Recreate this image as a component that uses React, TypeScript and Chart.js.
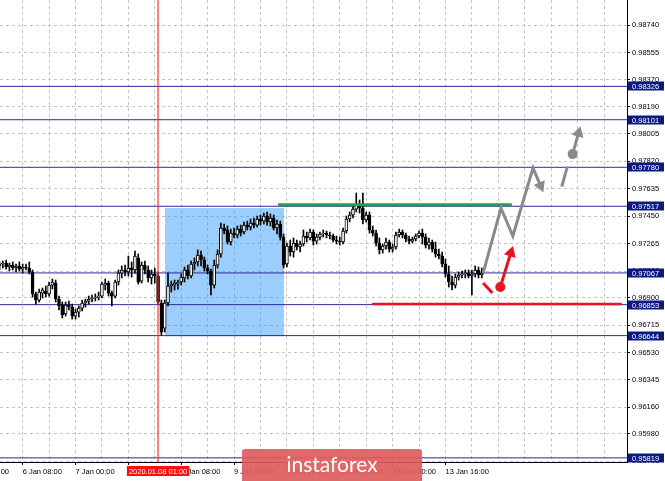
import React, { useEffect, useRef } from "react";
import { Chart, registerables } from "chart.js";

Chart.register(...registerables);

// ---------- data (H1 candles, bar index 0 = 6 Jan 08:00) ----------
const FIRST_BAR = -7;

const opens = [
  0.97114, 0.97127, 0.97134, 0.97107, 0.97120, 0.97100, 0.97114, 0.97093, 0.97107, 0.97100,
  0.97073, 0.96925, 0.96884, 0.96931, 0.96945, 0.96925, 0.96985, 0.96999, 0.96891, 0.96850,
  0.96790, 0.96850, 0.96837, 0.96776, 0.96803, 0.96830, 0.96864, 0.96877, 0.96891, 0.96898,
  0.96904, 0.96911, 0.96985, 0.96999, 0.96931, 0.96911, 0.97006, 0.97066, 0.97087, 0.97073,
  0.97100, 0.97087, 0.97168, 0.97012, 0.97120, 0.97087, 0.97033, 0.97060, 0.97046, 0.96864,
  0.96695, 0.96864, 0.96979, 0.96985, 0.96992, 0.97006, 0.97033, 0.97087, 0.97046, 0.97127,
  0.97141, 0.97188, 0.97154, 0.97100, 0.97080, 0.96985, 0.97120, 0.97195, 0.97370, 0.97357,
  0.97276, 0.97336, 0.97323, 0.97363, 0.97343, 0.97390, 0.97377, 0.97404, 0.97390, 0.97431,
  0.97417, 0.97451, 0.97411, 0.97438, 0.97370, 0.97397, 0.97309, 0.97127, 0.97249, 0.97208,
  0.97269, 0.97242, 0.97262, 0.97316, 0.97303, 0.97343, 0.97282, 0.97309, 0.97330, 0.97336,
  0.97323, 0.97316, 0.97289, 0.97282, 0.97276, 0.97350, 0.97431, 0.97458, 0.97498, 0.97525,
  0.97505, 0.97424, 0.97458, 0.97357, 0.97336, 0.97269, 0.97222, 0.97249, 0.97276, 0.97228,
  0.97242, 0.97323, 0.97343, 0.97323, 0.97296, 0.97282, 0.97296, 0.97316, 0.97336, 0.97309,
  0.97255, 0.97276, 0.97228, 0.97195, 0.97181, 0.97127, 0.97060, 0.97006, 0.96985, 0.97039,
  0.97053, 0.97060, 0.97066, 0.97046, 0.97060, 0.97087, 0.97053,
];

const highs = [
  0.97141, 0.97147, 0.97154, 0.97134, 0.97141, 0.97127, 0.97141, 0.97127, 0.97127, 0.97141,
  0.97087, 0.96938, 0.96958, 0.96965, 0.96979, 0.97006, 0.97026, 0.97019, 0.96911, 0.96871,
  0.96871, 0.96877, 0.96857, 0.96823, 0.96844, 0.96884, 0.96891, 0.96911, 0.96918, 0.96925,
  0.96938, 0.97006, 0.97026, 0.97012, 0.96945, 0.97019, 0.97087, 0.97114, 0.97120, 0.97181,
  0.97141, 0.97215, 0.97195, 0.97141, 0.97147, 0.97114, 0.97087, 0.97100, 0.97066, 0.96884,
  0.96884, 0.97066, 0.97012, 0.97019, 0.97019, 0.97060, 0.97107, 0.97120, 0.97147, 0.97168,
  0.97222, 0.97215, 0.97174, 0.97120, 0.97093, 0.97154, 0.97222, 0.97404, 0.97397, 0.97384,
  0.97363, 0.97370, 0.97384, 0.97390, 0.97411, 0.97417, 0.97431, 0.97438, 0.97451, 0.97458,
  0.97471, 0.97478, 0.97465, 0.97458, 0.97424, 0.97417, 0.97330, 0.97269, 0.97289, 0.97303,
  0.97289, 0.97282, 0.97357, 0.97343, 0.97363, 0.97357, 0.97330, 0.97343, 0.97357, 0.97350,
  0.97343, 0.97330, 0.97316, 0.97309, 0.97370, 0.97451, 0.97478, 0.97519, 0.97606, 0.97559,
  0.97606, 0.97478, 0.97478, 0.97384, 0.97357, 0.97303, 0.97262, 0.97303, 0.97289, 0.97262,
  0.97343, 0.97363, 0.97357, 0.97336, 0.97316, 0.97309, 0.97330, 0.97350, 0.97363, 0.97330,
  0.97303, 0.97289, 0.97276, 0.97228, 0.97208, 0.97161, 0.97114, 0.97046, 0.97060, 0.97073,
  0.97080, 0.97087, 0.97087, 0.97087, 0.97114, 0.97107, 0.97100,
];

const lows = [
  0.97087, 0.97100, 0.97093, 0.97080, 0.97087, 0.97073, 0.97080, 0.97066, 0.97087, 0.97060,
  0.96904, 0.96857, 0.96871, 0.96898, 0.96904, 0.96911, 0.96958, 0.96871, 0.96817, 0.96763,
  0.96776, 0.96817, 0.96756, 0.96756, 0.96769, 0.96810, 0.96837, 0.96857, 0.96871, 0.96877,
  0.96884, 0.96898, 0.96952, 0.96911, 0.96844, 0.96898, 0.96985, 0.97033, 0.97046, 0.97046,
  0.97039, 0.97066, 0.96992, 0.96999, 0.97060, 0.97006, 0.96992, 0.96999, 0.96857, 0.96648,
  0.96668, 0.96844, 0.96938, 0.96952, 0.96958, 0.96985, 0.97006, 0.97026, 0.97033, 0.97087,
  0.97114, 0.97114, 0.97080, 0.97060, 0.96918, 0.96965, 0.97100, 0.97174, 0.97330, 0.97262,
  0.97255, 0.97303, 0.97303, 0.97316, 0.97330, 0.97357, 0.97357, 0.97370, 0.97377, 0.97390,
  0.97397, 0.97390, 0.97384, 0.97357, 0.97330, 0.97289, 0.97100, 0.97107, 0.97181, 0.97174,
  0.97222, 0.97208, 0.97249, 0.97276, 0.97289, 0.97255, 0.97262, 0.97289, 0.97309, 0.97303,
  0.97296, 0.97276, 0.97262, 0.97255, 0.97262, 0.97336, 0.97411, 0.97438, 0.97478, 0.97471,
  0.97397, 0.97411, 0.97336, 0.97316, 0.97249, 0.97195, 0.97201, 0.97228, 0.97208, 0.97208,
  0.97228, 0.97309, 0.97303, 0.97276, 0.97262, 0.97269, 0.97282, 0.97303, 0.97262, 0.97235,
  0.97228, 0.97208, 0.97174, 0.97161, 0.97107, 0.97039, 0.96972, 0.96952, 0.96965, 0.97019,
  0.97033, 0.97033, 0.97033, 0.96918, 0.97039, 0.97033, 0.97033,
];

const closes = [
  0.97127, 0.97134, 0.97107, 0.97120, 0.97100, 0.97114, 0.97093, 0.97107, 0.97100, 0.97073,
  0.96925, 0.96884, 0.96938, 0.96952, 0.96925, 0.96985, 0.97006, 0.96891, 0.96844, 0.96783,
  0.96850, 0.96837, 0.96776, 0.96803, 0.96830, 0.96864, 0.96877, 0.96891, 0.96898, 0.96904,
  0.96911, 0.96992, 0.96999, 0.96931, 0.96911, 0.97006, 0.97066, 0.97087, 0.97073, 0.97100,
  0.97087, 0.97181, 0.97006, 0.97120, 0.97087, 0.97033, 0.97060, 0.97046, 0.96871, 0.96668,
  0.96864, 0.96979, 0.96992, 0.96999, 0.97006, 0.97039, 0.97087, 0.97046, 0.97127, 0.97141,
  0.97188, 0.97154, 0.97100, 0.97080, 0.96985, 0.97120, 0.97195, 0.97370, 0.97350, 0.97276,
  0.97336, 0.97323, 0.97363, 0.97336, 0.97390, 0.97377, 0.97404, 0.97390, 0.97431, 0.97417,
  0.97451, 0.97411, 0.97438, 0.97370, 0.97397, 0.97309, 0.97120, 0.97249, 0.97208, 0.97269,
  0.97242, 0.97262, 0.97316, 0.97303, 0.97343, 0.97282, 0.97309, 0.97330, 0.97336, 0.97323,
  0.97316, 0.97289, 0.97282, 0.97276, 0.97350, 0.97431, 0.97458, 0.97498, 0.97525, 0.97505,
  0.97424, 0.97458, 0.97357, 0.97336, 0.97269, 0.97222, 0.97249, 0.97276, 0.97228, 0.97242,
  0.97323, 0.97343, 0.97323, 0.97296, 0.97282, 0.97296, 0.97316, 0.97336, 0.97309, 0.97255,
  0.97276, 0.97228, 0.97195, 0.97181, 0.97127, 0.97060, 0.97006, 0.96985, 0.97039, 0.97053,
  0.97060, 0.97066, 0.97046, 0.97060, 0.97087, 0.97053, 0.97066,
];

// time axis
const timeTickIndex = [-16, 0, 16, 32, 48, 64, 80, 96, 112, 128];
const timeTickLabels = [
  "3 Jan 16:00", "6 Jan 08:00", "7 Jan 00:00", "7 Jan 16:00", "8 Jan 08:00",
  "9 Jan 00:00", "9 Jan 16:00", "10 Jan 08:00", "13 Jan 00:00", "13 Jan 16:00",
];
const timeGridStep = 8;
const xRange = [-6.86, 182.96];

// price axis
const priceRange = [0.95791, 0.98909];
const priceTicks = [
  0.98740, 0.98555, 0.98370, 0.98190, 0.98005, 0.97820, 0.97635, 0.97450, 0.97265,
  0.97080, 0.96900, 0.96715, 0.96530, 0.96345, 0.96160, 0.95980, 0.95795,
];
const levelPrices = [0.98326, 0.98101, 0.97780, 0.97517, 0.97067, 0.96853, 0.96644, 0.95819];

// annotations
const markerIndex = 41;
const markerLabel = "2020.01.08 01:00";
const zoneX = [43.1, 79.1];
const zoneTop = 0.97505;
const zoneBottom = 0.9664;
const resistanceX = [77.3, 148.1];
const resistancePrice = 0.97527;
const supportX = [105.8, 181.4];
const supportPrice = 0.96857;
const bullPathX = [139.4, 144.8, 148.4, 154.5, 156.8];
const bullPathY = [0.97066, 0.97505, 0.97316, 0.97775, 0.97655];
const bullDashX = [163.2, 164.9];
const bullDashY = [0.97649, 0.97784];
const bullDot = [166.5, 0.97869];
const bullArrowX = [166.5, 168.3];
const bullArrowY = [0.97869, 0.98012];
const bearDashX = [139.4, 142.2];
const bearDashY = [0.96999, 0.96931];
const bearDot = [144.6, 0.96972];
const bearArrowX = [144.6, 147.8];
const bearArrowY = [0.96972, 0.97203];
const watermarkText = "instaforex";

// ---------- styles ----------
const FONT = "'Liberation Sans', Arial, sans-serif";
const LEVEL_COLOR = "#2b2b9b";
const LABEL_BOX = "#0c1a80";
const GRAY = "#8a8a8a";
const RED = "#e8141e";

const pts = (xs: number[], ys: number[]) => xs.map((x, k) => ({ x, y: ys[k] }));

const arrowRotation = (ctx: any) => {
  const data = ctx.dataset.data;
  const i = ctx.dataIndex;
  if (!i) return 0;
  const xs = ctx.chart.scales.x;
  const ys = ctx.chart.scales.y;
  const dx = xs.getPixelForValue(data[i].x) - xs.getPixelForValue(data[i - 1].x);
  const dy = ys.getPixelForValue(data[i].y) - ys.getPixelForValue(data[i - 1].y);
  return (Math.atan2(dx, -dy) * 180) / Math.PI;
};
const lastPointRadius = (r: number) => (ctx: any) =>
  ctx.dataIndex === ctx.dataset.data.length - 1 ? r : 0;

const arrowLine = (data: any[], color: string, order: number) => ({
  type: "line" as const,
  data,
  borderColor: color,
  backgroundColor: color,
  borderWidth: 3,
  pointStyle: "triangle",
  pointRadius: lastPointRadius(7),
  pointBorderWidth: 0,
  pointBackgroundColor: color,
  pointRotation: arrowRotation,
  tension: 0,
  order,
});

const overlayPlugin = {
  id: "overlay",
  afterDraw(chart: any) {
    const { ctx, chartArea, scales } = chart;
    const xs = scales.x;
    const ys = scales.y;
    ctx.save();
    ctx.font = `7.5px ${FONT}`;
    ctx.textBaseline = "middle";
    ctx.textAlign = "left";
    // level price boxes
    levelPrices.forEach((p) => {
      const y = Math.round(ys.getPixelForValue(p));
      ctx.fillStyle = LABEL_BOX;
      ctx.fillRect(chartArea.right + 1, y - 4.5, 36, 9);
      ctx.fillStyle = "#ffffff";
      ctx.fillText(p.toFixed(5), chartArea.right + 5, y + 0.5);
    });
    // date marker box
    const mx = xs.getPixelForValue(markerIndex);
    const w = ctx.measureText(markerLabel).width + 4;
    ctx.fillStyle = "#ff1010";
    ctx.fillRect(mx - w / 2, chartArea.bottom + 4, w, 10);
    ctx.fillStyle = "#ffffff";
    ctx.textAlign = "center";
    ctx.fillText(markerLabel, mx, chartArea.bottom + 9.5);
    // watermark
    const bx = 242, bw = 180, by = 449, bh = 40;
    ctx.fillStyle = "rgba(222, 92, 92, 0.92)";
    ctx.beginPath();
    ctx.moveTo(bx + 3, by);
    ctx.lineTo(bx + bw - 3, by);
    ctx.quadraticCurveTo(bx + bw, by, bx + bw, by + 3);
    ctx.lineTo(bx + bw, by + bh);
    ctx.lineTo(bx, by + bh);
    ctx.lineTo(bx, by + 3);
    ctx.quadraticCurveTo(bx, by, bx + 3, by);
    ctx.fill();
    ctx.fillStyle = "#ffffff";
    ctx.font = `21px Lato, 'Open Sans', sans-serif`;
    ctx.textAlign = "center";
    ctx.textBaseline = "alphabetic";
    ctx.fillText(watermarkText, bx + bw / 2, by + 23);
    ctx.restore();
  },
};

export default function App() {
  const ref = useRef<HTMLCanvasElement>(null);

  useEffect(() => {
    const idx = opens.map((_, k) => FIRST_BAR + k);
    const wicks = idx.map((x, k) => ({ x, y: [lows[k], highs[k]] }));
    const bodies = idx.map((x, k) => ({ x, y: [opens[k], closes[k]] }));
    const bodyColors = opens.map((o, k) => (closes[k] > o ? "#ffffff" : "#000000"));

    const datasets: any[] = [
      {
        type: "line",
        data: pts(zoneX, [zoneTop, zoneTop]),
        borderWidth: 0,
        borderColor: "rgba(0,0,0,0)",
        backgroundColor: "rgba(45,150,250,0.48)",
        fill: { value: zoneBottom },
        pointRadius: 0,
        order: 20,
      },
      ...levelPrices.map((p) => ({
        type: "line",
        data: pts(xRange, [p, p]),
        borderColor: LEVEL_COLOR,
        borderWidth: 1,
        pointRadius: 0,
        order: 15,
      })),
      {
        type: "bar",
        data: wicks,
        backgroundColor: "#000000",
        barThickness: 1,
        grouped: false,
        order: 12,
      },
      {
        type: "bar",
        data: bodies,
        backgroundColor: bodyColors,
        borderColor: "#000000",
        borderWidth: 1,
        borderSkipped: false,
        barThickness: 3,
        minBarLength: 1,
        grouped: false,
        order: 11,
      },
      {
        type: "line",
        data: pts([markerIndex, markerIndex], priceRange),
        borderColor: "rgba(255,40,40,0.6)",
        borderWidth: 2,
        pointRadius: 0,
        order: 9,
      },
      {
        type: "line",
        data: pts(resistanceX, [resistancePrice, resistancePrice]),
        borderColor: "#22a04a",
        borderWidth: 3,
        pointRadius: 0,
        order: 8,
      },
      {
        type: "line",
        data: pts(supportX, [supportPrice, supportPrice]),
        borderColor: RED,
        borderWidth: 2.5,
        pointRadius: 0,
        order: 8,
      },
      arrowLine(pts(bullPathX, bullPathY), GRAY, 6),
      {
        type: "line",
        data: pts(bullDashX, bullDashY),
        borderColor: GRAY,
        borderWidth: 3,
        pointRadius: 0,
        order: 6,
      },
      arrowLine(pts(bullArrowX, bullArrowY), GRAY, 5),
      {
        type: "line",
        data: [{ x: bullDot[0], y: bullDot[1] }],
        pointRadius: 5,
        pointBackgroundColor: GRAY,
        pointBorderWidth: 0,
        showLine: false,
        order: 4,
      },
      {
        type: "line",
        data: pts(bearDashX, bearDashY),
        borderColor: RED,
        borderWidth: 3,
        pointRadius: 0,
        order: 6,
      },
      arrowLine(pts(bearArrowX, bearArrowY), RED, 5),
      {
        type: "line",
        data: [{ x: bearDot[0], y: bearDot[1] }],
        pointRadius: 5,
        pointBackgroundColor: RED,
        pointBorderWidth: 0,
        showLine: false,
        order: 4,
      },
    ];

    const gridTicks: number[] = [];
    for (let v = timeTickIndex[0]; v <= xRange[1]; v += timeGridStep) gridTicks.push(v);

    const chart = new Chart(ref.current as HTMLCanvasElement, {
      type: "bar",
      data: { datasets },
      plugins: [overlayPlugin],
      options: {
        responsive: false,
        animation: false,
        devicePixelRatio: 1,
        events: [],
        layout: { padding: 0, autoPadding: false },
        plugins: { legend: { display: false }, tooltip: { enabled: false } },
        scales: {
          x: {
            type: "linear",
            position: "bottom",
            min: xRange[0],
            max: xRange[1],
            offset: false,
            afterBuildTicks: (s: any) => {
              s.ticks = gridTicks.map((value) => ({ value }));
            },
            afterFit: (s: any) => {
              s.height = 19;
              s.paddingLeft = 0;
              s.paddingRight = 0;
            },
            grid: {
              offset: false,
              color: "#c4c4c4",
              lineWidth: 1,
              tickLength: 3,
              tickBorderDash: [],
              tickColor: (ctx: any) =>
                ctx.tick && timeTickIndex.includes(ctx.tick.value) ? "#000000" : "rgba(0,0,0,0)",
            },
            border: { display: true, color: "#000000", width: 1, dash: [3, 3] },
            ticks: {
              autoSkip: false,
              maxRotation: 0,
              minRotation: 0,
              align: "start",
              padding: 2,
              color: "#000000",
              font: { family: FONT, size: 7.5 },
              callback: (value: any) => {
                const k = timeTickIndex.indexOf(Number(value));
                return k >= 0 ? timeTickLabels[k] : "";
              },
            },
          },
          y: {
            type: "linear",
            position: "right",
            min: priceRange[0],
            max: priceRange[1],
            afterBuildTicks: (s: any) => {
              s.ticks = priceTicks.map((value) => ({ value }));
            },
            afterFit: (s: any) => {
              s.width = 38;
              s.paddingTop = 0;
              s.paddingBottom = 0;
            },
            grid: {
              color: "#c4c4c4",
              lineWidth: 1,
              tickLength: 3,
              tickBorderDash: [],
              tickColor: "#000000",
            },
            border: { display: true, color: "#000000", width: 1, dash: [3, 3] },
            ticks: {
              padding: 2,
              color: "#000000",
              font: { family: FONT, size: 7.5 },
              callback: (value: any) => Number(value).toFixed(5),
            },
          },
        },
      } as any,
    });
    return () => chart.destroy();
  }, []);

  return (
    <div style={{ position: "absolute", left: 0, top: 0, width: 665, height: 481, background: "#ffffff" }}>
      <canvas ref={ref} width={665} height={481} style={{ display: "block", width: 665, height: 481 }} />
    </div>
  );
}
